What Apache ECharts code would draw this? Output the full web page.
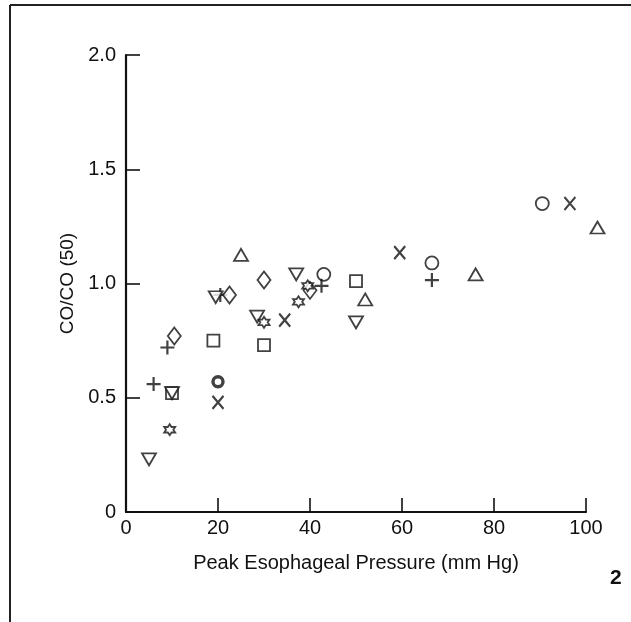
<!DOCTYPE html>
<html>
<head>
<meta charset="utf-8">
<script src="https://cdn.jsdelivr.net/npm/echarts@6/dist/echarts.min.js"></script>
<style>html,body{margin:0;padding:0;background:#fff;}#c{width:631px;height:622px;}</style>
</head>
<body>
<div id="c"></div>
<script>
const xTicks = [0, 20, 40, 60, 80, 100];
const yTicks = [0, 0.5, 1.0, 1.5, 2.0];
const circleData = [[20, 0.57], [43, 1.04], [66.5, 1.09], [90.5, 1.35]];
const crossData = [[20, 0.48], [34.5, 0.84], [59.5, 1.135], [96.5, 1.35]];
const plusData = [[6, 0.56], [9, 0.72], [20.5, 0.95], [42.5, 0.99], [66.5, 1.015]];
const diamondData = [[10.5, 0.77], [22.5, 0.95], [30, 1.015], [40, 0.97]];
const squareData = [[10, 0.52], [19, 0.75], [30, 0.73], [50, 1.01]];
const triUpData = [[25, 1.125], [52, 0.93], [76, 1.04], [102.5, 1.245]];
const triDownData = [[5, 0.23], [10, 0.52], [19.5, 0.94], [28.5, 0.855], [37, 1.04], [50, 0.83]];
const starData = [[9.5, 0.36], [30, 0.83], [37.5, 0.92], [39.5, 0.99]];

const FONT = '"Liberation Sans", Arial, sans-serif';
const hollow = {color: '#fff', borderColor: '#111', borderWidth: 1.8};
const strokeOnly = {color: 'none', borderColor: '#111', borderWidth: 2.2};

function ser(name, data, symbol, size, style, extra) {
  return Object.assign({
    name: name, type: 'scatter', data: data, symbol: symbol, symbolSize: size,
    itemStyle: style, z: 3, silent: true, clip: false
  }, extra || {});
}

const chart = echarts.init(document.getElementById('c'), null, {renderer: 'canvas'});
chart.setOption({
  animation: false,
  backgroundColor: '#fff',
  grid: {left: 126, right: 45, top: 55, bottom: 110},
  xAxis: {
    type: 'value', min: 0, max: 100, interval: 20,
    name: 'Peak Esophageal Pressure (mm Hg)', nameLocation: 'middle', nameGap: 41,
    nameTextStyle: {fontFamily: FONT, fontSize: 20, color: '#111'},
    axisLine: {show: true, lineStyle: {color: '#111', width: 2.2}},
    axisTick: {show: true, inside: true, length: 14, lineStyle: {color: '#111', width: 1.6}},
    axisLabel: {fontFamily: FONT, fontSize: 20, color: '#111', margin: 6,
      formatter: v => xTicks.indexOf(v) >= 0 ? String(v) : ''},
    splitLine: {show: false}
  },
  yAxis: {
    type: 'value', min: 0, max: 2, interval: 0.5,
    name: 'CO/CO (50)', nameLocation: 'middle', nameGap: 37,
    nameTextStyle: {fontFamily: FONT, fontSize: 19, color: '#111'},
    axisLine: {show: true, lineStyle: {color: '#111', width: 2.2}},
    axisTick: {show: true, inside: true, length: 14, lineStyle: {color: '#111', width: 1.6}},
    axisLabel: {fontFamily: FONT, fontSize: 20, color: '#111', margin: 10,
      formatter: v => { const i = yTicks.indexOf(v); return i < 0 ? '' : (v === 0 ? '0' : v.toFixed(1)); }},
    splitLine: {show: false}
  },
  graphic: [
    {type: 'line', shape: {x1: 10, y1: 5, x2: 631, y2: 5}, style: {stroke: '#222', lineWidth: 2}},
    {type: 'line', shape: {x1: 10, y1: 5, x2: 10, y2: 622}, style: {stroke: '#222', lineWidth: 2}},
    {type: 'text', left: 610, top: 568, style: {text: '2', font: 'bold 21px ' + FONT, fill: '#111'}}
  ],
  series: [
    ser('circle', circleData.map((d, i) => i === 0 ? {value: d, itemStyle: {borderWidth: 3.4}, symbolSize: 10} : d),
      'circle', 13, hollow),
    ser('cross', crossData, 'path://M0,0 L10,12 M10,0 L0,12', [11, 13], strokeOnly),
    ser('plus', plusData, 'path://M6,0 L6,12 M0,6 L12,6', 14, strokeOnly),
    ser('diamond', diamondData, 'path://M5,0 L10,7 L5,14 L0,7 Z', [13, 17], hollow),
    ser('square', squareData, 'rect', 12, hollow),
    ser('triUp', triUpData, 'triangle', [14, 12], hollow),
    ser('triDown', triDownData, 'triangle', [14, 12], hollow, {symbolRotate: 180}),
    ser('star', starData, 'path://M5,0 L6.5,2.5 L9.5,2.5 L8,5 L9.5,7.5 L6.5,7.5 L5,10 L3.5,7.5 L0.5,7.5 L2,5 L0.5,2.5 L3.5,2.5 Z', 11, hollow)
  ]
});
</script>
</body>
</html>
